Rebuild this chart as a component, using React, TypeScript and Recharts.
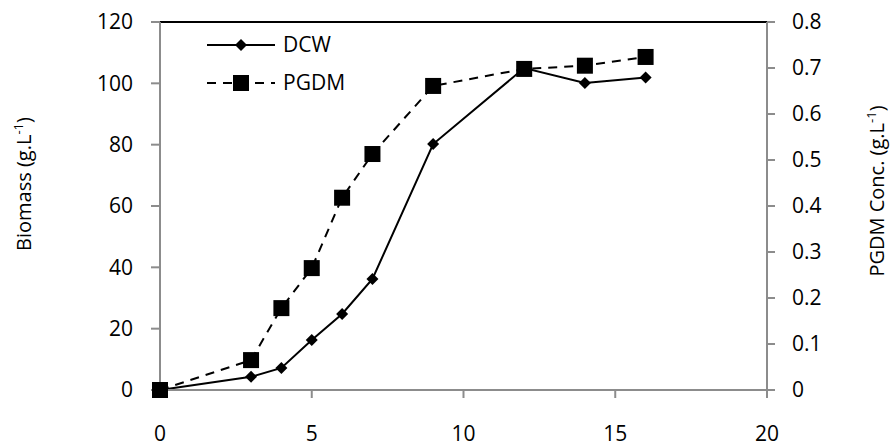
import { LineChart, Line, XAxis, YAxis, ReferenceLine } from 'recharts'

const hours = [0, 3, 4, 5, 6, 7, 9, 12, 14, 16]
const dcw = [0, 4.3, 7.2, 16.3, 24.8, 36.2, 80.2, 105, 100.1, 101.9]
const pgdm = [0, 0.065, 0.178, 0.265, 0.418, 0.513, 0.661, 0.698, 0.705, 0.724]

const xTicks = [0, 5, 10, 15, 20]
const leftTicks = [0, 20, 40, 60, 80, 100, 120]
const rightTicks = [0, 0.1, 0.2, 0.3, 0.4, 0.5, 0.6, 0.7, 0.8]

const data = hours.map((h, i) => ({ h, dcw: dcw[i], pgdm: pgdm[i] }))

const FONT = '"Open Sans", sans-serif'
const AXIS = '#8c8c8c'

const Diamond = (props: any) => {
  const { cx, cy } = props
  if (cx == null || cy == null) return null
  return <path d={`M${cx},${cy - 6}L${cx + 6},${cy}L${cx},${cy + 6}L${cx - 6},${cy}Z`} fill="#000" />
}

const Square = (props: any) => {
  const { cx, cy } = props
  if (cx == null || cy == null) return null
  return <rect x={cx - 8} y={cy - 8} width={16} height={16} fill="#000" />
}

export default function App() {
  return (
    <div style={{ position: 'fixed', left: 0, top: 0, background: '#fff' }}>
      <LineChart width={896} height={446} data={data} margin={{ top: 22, right: 79, bottom: 16, left: 110 }}>
        <XAxis
          dataKey="h" type="number" domain={[0, 20]} ticks={xTicks}
          stroke={AXIS} strokeWidth={2} tickSize={8} height={40}
          tick={{ fill: '#000', fontSize: 21, fontFamily: FONT, dy: 26 }}
        />
        <YAxis
          yAxisId="left" domain={[0, 120]} ticks={leftTicks} width={50}
          stroke={AXIS} strokeWidth={2} tickSize={9}
          tick={{ fill: '#000', fontSize: 21, fontFamily: FONT, dx: -16 }}
        />
        <YAxis
          yAxisId="right" orientation="right" domain={[0, 0.8]} ticks={rightTicks} width={50}
          stroke={AXIS} strokeWidth={2} tickSize={8}
          tickFormatter={(v: number) => (v === 0 ? '0' : v.toFixed(1))}
          tick={{ fill: '#000', fontSize: 21, fontFamily: FONT, dx: 15 }}
        />
        <ReferenceLine yAxisId="left" y={120} stroke="#000" strokeWidth={2} />
        <Line
          yAxisId="left" dataKey="dcw" name="DCW" stroke="#000" strokeWidth={2}
          dot={<Diamond />} activeDot={false} isAnimationActive={false}
        />
        <Line
          yAxisId="right" dataKey="pgdm" name="PGDM" stroke="#000" strokeWidth={2} strokeDasharray="9 7"
          dot={<Square />} activeDot={false} isAnimationActive={false}
        />
      </LineChart>
      <svg width={896} height={446} style={{ position: 'absolute', left: 0, top: 0, pointerEvents: 'none' }}>
        <g style={{ fontFamily: FONT, fontSize: 21 }}>
          <line x1={207} y1={45} x2={275} y2={45} stroke="#000" strokeWidth={2} />
          <Diamond cx={241} cy={45} />
          <text x={283} y={52} fill="#000">DCW</text>
          <line x1={207} y1={83} x2={275} y2={83} stroke="#000" strokeWidth={2} strokeDasharray="9 7" />
          <Square cx={241} cy={83} />
          <text x={283} y={90} fill="#000">PGDM</text>
        </g>
        <text
          transform="translate(31,184) rotate(-90)" textAnchor="middle"
          style={{ fontFamily: FONT, fontSize: 20 }} fill="#000"
        >
          Biomass (g.L<tspan dy={-8} fontSize={13}>-1</tspan><tspan dy={8}>)</tspan>
        </text>
        <text
          transform="translate(884,191) rotate(-90)" textAnchor="middle"
          style={{ fontFamily: FONT, fontSize: 20 }} fill="#000"
        >
          PGDM Conc.  (g.L<tspan dy={-8} fontSize={13}>-1</tspan><tspan dy={8}>)</tspan>
        </text>
      </svg>
    </div>
  )
}
